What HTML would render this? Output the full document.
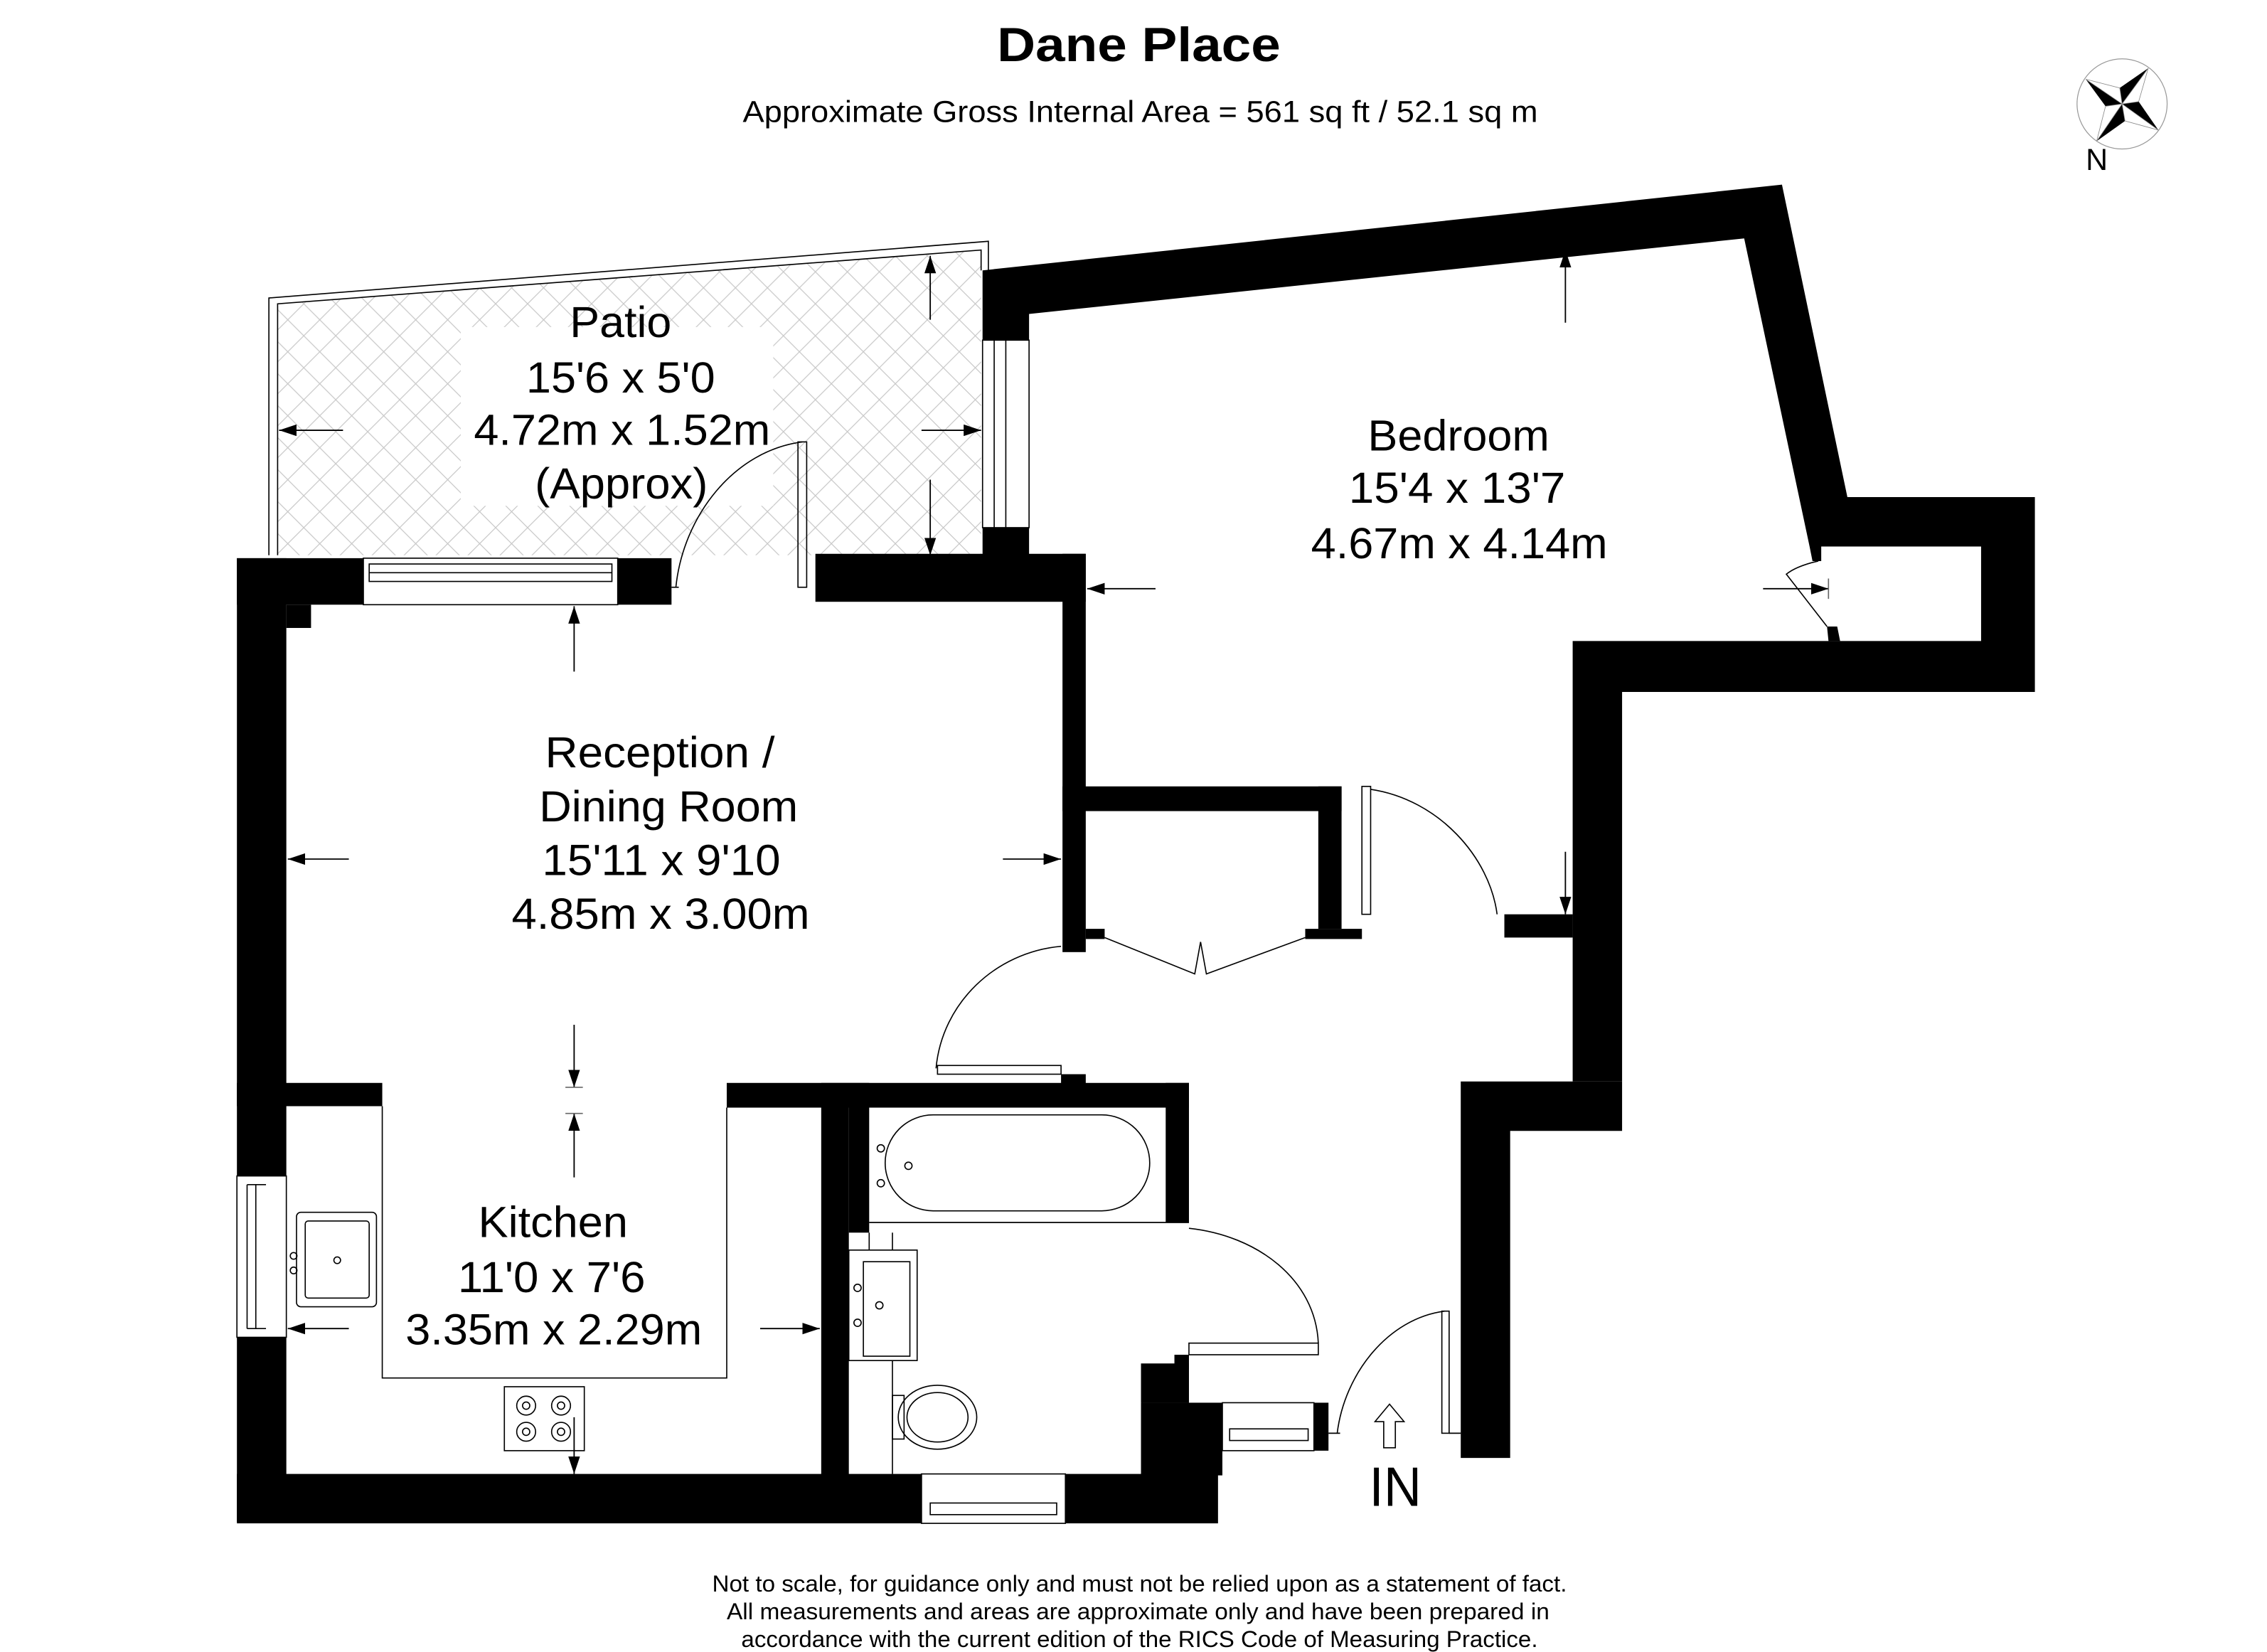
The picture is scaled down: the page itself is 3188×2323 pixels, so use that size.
<!DOCTYPE html>
<html><head><meta charset="utf-8"><style>
html,body{margin:0;padding:0;background:#fff}
svg{display:block}
text{font-family:"Liberation Sans",sans-serif;fill:#000}
</style></head><body>
<svg width="3188" height="2323" viewBox="0 0 1559.7 1136.5" xmlns="http://www.w3.org/2000/svg">
<defs>
<marker id="ah" viewBox="0 0 12 8" refX="12" refY="4" markerWidth="12" markerHeight="8" markerUnits="userSpaceOnUse" orient="auto"><path d="M0,0 L12,4 L0,8 z" fill="#000"/></marker>
<pattern id="hatch" width="22" height="22" patternUnits="userSpaceOnUse"><path d="M0,0 L22,22 M22,0 L0,22" stroke="#c8c8c8" stroke-width="0.6"/></pattern>
</defs>
<rect width="1559.7" height="1136.5" fill="#fff"/>

<text x="686" y="42" font-size="33" font-weight="bold" textLength="195" lengthAdjust="spacingAndGlyphs">Dane Place</text>
<text x="511" y="84" font-size="21" textLength="547" lengthAdjust="spacingAndGlyphs">Approximate Gross Internal Area = 561 sq ft / 52.1 sq m</text>
<text x="490" y="1095" font-size="16" textLength="588" lengthAdjust="spacingAndGlyphs">Not to scale, for guidance only and must not be relied upon as a statement of fact.</text>
<text x="500" y="1114" font-size="16" textLength="566" lengthAdjust="spacingAndGlyphs">All measurements and areas are approximate only and have been prepared in</text>
<text x="510" y="1133" font-size="16" textLength="548" lengthAdjust="spacingAndGlyphs">accordance with the current edition of the RICS Code of Measuring Practice.</text>

<g transform="translate(1460,71.5)">
<circle r="31" fill="none" stroke="#999" stroke-width="0.6"/>
<g fill="#000"><path d="M0,0 L18,-24.6 L-1.6,-11z"/><path d="M0,0 L-25,-17 L-11.4,1.6z"/><path d="M0,0 L-17.5,25.6 L2,11.7z"/><path d="M0,0 L25,18 L11.4,-1.6z"/></g>
<g fill="#fff" stroke="#888" stroke-width="0.4"><path d="M0,0 L18,-24.6 L11.4,-1.6z"/><path d="M0,0 L-25,-17 L-1.6,-11z"/><path d="M0,0 L-17.5,25.6 L-11.4,1.6z"/><path d="M0,0 L25,18 L2,11.7z"/></g>
</g>
<text x="1435" y="117" font-size="21">N</text>

<polygon points="191,209 675,172 675,382 191,382" fill="url(#hatch)"/>
<rect x="317" y="225" width="215" height="123" fill="#fff"/>
<polyline points="185,382 185,205 680,166 680,186" fill="none" stroke="#000" stroke-width="0.8"/>
<polyline points="191,382 191,209 675,172 675,186" fill="none" stroke="#000" stroke-width="0.8"/>

<g fill="#000">
<polygon points="676,186 1226,127 1271,342 1400,342 1400,376 1245,376 1200,164 708,216 708,234 676,234"/>
<polygon points="1245,376 1253,376 1253,386 1247,386"/>
<polygon points="1257,431 1264,431 1266,441 1258,441"/>
<polygon points="1363,376 1400,376 1400,476 1116,476 1116,744 1082,744 1082,441 1363,441"/>
<polygon points="1005,744 1116,744 1116,778 1039,778 1039,1003 1005,1003"/>
<rect x="1035" y="629" width="47" height="16"/>
<rect x="676" y="363" width="32" height="20"/>
<rect x="163" y="384" width="87" height="32"/>
<rect x="197" y="416" width="17" height="16"/>
<rect x="425" y="384" width="37" height="32"/>
<rect x="561" y="381" width="186" height="33"/>
<rect x="731" y="381" width="16" height="274"/>
<rect x="163" y="384" width="34" height="425"/>
<rect x="163" y="920" width="34" height="127"/>
<rect x="163" y="745" width="100" height="16"/>
<rect x="500" y="745" width="318" height="17"/>
<rect x="163" y="1014" width="471" height="34"/>
<rect x="733" y="1014" width="105" height="34"/>
<rect x="565" y="745" width="19" height="270"/>
<rect x="584" y="745" width="14" height="103"/>
<rect x="802" y="745" width="16" height="96"/>
<rect x="808" y="932" width="10" height="10"/>
<rect x="785" y="938" width="33" height="27"/>
<rect x="785" y="965" width="56" height="50"/>
<rect x="904" y="965" width="10" height="33"/>
<rect x="731" y="541" width="192" height="17"/>
<rect x="907" y="541" width="16" height="98"/>
<rect x="898" y="639" width="39" height="7"/>
<rect x="747" y="639" width="13" height="7"/>
<rect x="730" y="739" width="17" height="7"/>
</g>

<g fill="none" stroke="#000" stroke-width="0.8">
<rect x="676" y="234" width="32" height="129"/><line x1="684" y1="234" x2="684" y2="363"/><line x1="692" y1="234" x2="692" y2="363"/>
<rect x="250" y="384" width="175" height="32"/><rect x="254" y="388" width="167" height="12"/><line x1="254" y1="394" x2="421" y2="394"/>
<rect x="549" y="304" width="6" height="100"/>
<path d="M552,304 C505,310 470,355 465,404"/>
<line x1="462" y1="404" x2="467" y2="404"/>
<rect x="163" y="809" width="34" height="111"/><line x1="170" y1="815" x2="170" y2="914"/><line x1="176" y1="815" x2="176" y2="914"/><line x1="170" y1="815" x2="183" y2="815"/><line x1="170" y1="914" x2="183" y2="914"/>
<polyline points="263,761 263,948 500,948 500,762"/>
<rect x="204" y="834" width="55" height="65" rx="3"/><rect x="210" y="840" width="44" height="53" rx="2"/>
<circle cx="232" cy="867" r="2.3"/><circle cx="202" cy="864" r="2.3"/><circle cx="202" cy="874" r="2.3"/>
<rect x="347" y="954" width="55" height="44"/>
<circle cx="362" cy="967" r="6.5"/><circle cx="362" cy="967" r="2.5"/><circle cx="386" cy="967" r="6.5"/><circle cx="386" cy="967" r="2.5"/>
<circle cx="362" cy="985" r="6.5"/><circle cx="362" cy="985" r="2.5"/><circle cx="386" cy="985" r="6.5"/><circle cx="386" cy="985" r="2.5"/>
<rect x="609" y="767" width="182" height="66" rx="33"/>
<circle cx="606" cy="790" r="2.5"/><circle cx="606" cy="814" r="2.5"/><circle cx="625" cy="802" r="2.5"/>
<line x1="598" y1="841" x2="818" y2="841"/>
<rect x="584" y="860" width="47" height="76"/><rect x="594" y="868" width="32" height="65"/>
<line x1="598" y1="848" x2="598" y2="860"/><line x1="614" y1="848" x2="614" y2="860"/>
<circle cx="590" cy="886" r="2.5"/><circle cx="590" cy="910" r="2.5"/><circle cx="605" cy="898" r="2.5"/>
<line x1="614" y1="936" x2="614" y2="1014"/>
<rect x="614" y="960" width="8" height="30"/>
<ellipse cx="645" cy="975" rx="27" ry="22"/><ellipse cx="645" cy="975" rx="21" ry="17"/>
<rect x="634" y="1014" width="99" height="34"/><rect x="640" y="1034" width="87" height="8"/>
<rect x="841" y="965" width="63" height="33"/><rect x="846" y="983" width="54" height="8"/>
<path d="M818,845 C865,850 905,880 907,924"/>
<rect x="818" y="924" width="89" height="8"/>
<rect x="992" y="902" width="5" height="84"/>
<path d="M994,902 C955,907 925,945 920,986"/>
<line x1="914" y1="986" x2="922" y2="986"/>
<line x1="997" y1="986" x2="1005" y2="986"/>
<path d="M730,651 C685,655 648,690 644,735"/>
<rect x="645" y="733" width="85" height="6"/>
<rect x="937" y="541" width="6" height="88"/>
<path d="M943,543 C990,550 1025,590 1030,629"/>
<polyline points="760,645 822,670 826,648 830,670 898,645"/>
<path d="M1251,386 C1242,388 1234,391 1229,395 L1257,431"/>
</g>

<path d="M956,966 L946,978 L952,978 L952,996 L960,996 L960,978 L966,978 Z" fill="none" stroke="#000" stroke-width="0.8"/>
<text x="942" y="1036" font-size="38" textLength="36" lengthAdjust="spacingAndGlyphs">IN</text>

<g stroke="#000" stroke-width="0.9" marker-end="url(#ah)">
<line x1="236" y1="296" x2="192" y2="296"/>
<line x1="634" y1="296" x2="675" y2="296"/>
<line x1="640" y1="220" x2="640" y2="176"/>
<line x1="640" y1="330" x2="640" y2="382"/>
<line x1="1077" y1="222" x2="1077" y2="172"/>
<line x1="795" y1="405" x2="748" y2="405"/>
<line x1="1213" y1="405" x2="1258" y2="405"/>
<line x1="395" y1="462" x2="395" y2="417"/>
<line x1="240" y1="591" x2="198" y2="591"/>
<line x1="690" y1="591" x2="730" y2="591"/>
<line x1="395" y1="705" x2="395" y2="748"/>
<line x1="395" y1="810" x2="395" y2="766"/>
<line x1="240" y1="914" x2="198" y2="914"/>
<line x1="523" y1="914" x2="564" y2="914"/>
<line x1="395" y1="975" x2="395" y2="1014"/>
<line x1="1077" y1="586" x2="1077" y2="629"/>
</g>
<g stroke="#666" stroke-width="0.8">
<line x1="389" y1="748" x2="401" y2="748"/><line x1="389" y1="766" x2="401" y2="766"/>
<line x1="1258" y1="398" x2="1258" y2="412"/>
</g>

<g font-size="30">
<text x="392" y="232" textLength="70" lengthAdjust="spacingAndGlyphs">Patio</text>
<text x="362" y="270" textLength="130" lengthAdjust="spacingAndGlyphs">15'6 x 5'0</text>
<text x="326" y="306" textLength="204" lengthAdjust="spacingAndGlyphs">4.72m x 1.52m</text>
<text x="368" y="343" textLength="119" lengthAdjust="spacingAndGlyphs">(Approx)</text>
<text x="941" y="310" textLength="125" lengthAdjust="spacingAndGlyphs">Bedroom</text>
<text x="928" y="346" textLength="149" lengthAdjust="spacingAndGlyphs">15'4 x 13'7</text>
<text x="902" y="384" textLength="204" lengthAdjust="spacingAndGlyphs">4.67m x 4.14m</text>
<text x="375" y="528" textLength="158" lengthAdjust="spacingAndGlyphs">Reception /</text>
<text x="371" y="565" textLength="178" lengthAdjust="spacingAndGlyphs">Dining Room</text>
<text x="373" y="602" textLength="164" lengthAdjust="spacingAndGlyphs">15'11 x 9'10</text>
<text x="352" y="639" textLength="205" lengthAdjust="spacingAndGlyphs">4.85m x 3.00m</text>
<text x="329" y="851" textLength="103" lengthAdjust="spacingAndGlyphs">Kitchen</text>
<text x="315" y="889" textLength="129" lengthAdjust="spacingAndGlyphs">11'0 x 7'6</text>
<text x="279" y="925" textLength="204" lengthAdjust="spacingAndGlyphs">3.35m x 2.29m</text>
</g>
</svg>
</body></html>
